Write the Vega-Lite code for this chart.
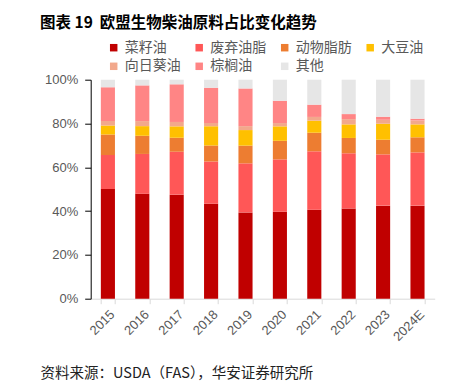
{
  "$schema": "https://vega.github.io/schema/vega-lite/v6.json",
  "width": 344,
  "height": 219,
  "autosize": "none",
  "padding": {"left": 90.7, "top": 79.7, "right": 38.3, "bottom": 84.3},
  "background": "white",
  "title": {
    "text": "图表 19\u00a0\u00a0欧盟生物柴油原料占比变化趋势",
    "anchor": "start",
    "frame": "group",
    "dx": -50.7,
    "offset": 2,
    "baseline": "middle",
    "font": "Noto Sans CJK SC",
    "fontSize": 15.5,
    "fontWeight": "bold",
    "color": "#000000"
  },
  "config": {"view": {"stroke": null}},
  "data": {
    "values": [
      {"year": "2015", "type": "菜籽油", "value": 50.1, "o": 1},
      {"year": "2015", "type": "废弃油脂", "value": 15.5, "o": 2},
      {"year": "2015", "type": "动物脂肪", "value": 9.4, "o": 3},
      {"year": "2015", "type": "大豆油", "value": 4.1, "o": 4},
      {"year": "2015", "type": "向日葵油", "value": 2.0, "o": 5},
      {"year": "2015", "type": "棕榈油", "value": 15.5, "o": 6},
      {"year": "2015", "type": "其他", "value": 3.4, "o": 7},
      {"year": "2016", "type": "菜籽油", "value": 47.9, "o": 1},
      {"year": "2016", "type": "废弃油脂", "value": 18.2, "o": 2},
      {"year": "2016", "type": "动物脂肪", "value": 8.3, "o": 3},
      {"year": "2016", "type": "大豆油", "value": 4.4, "o": 4},
      {"year": "2016", "type": "向日葵油", "value": 2.3, "o": 5},
      {"year": "2016", "type": "棕榈油", "value": 16.3, "o": 6},
      {"year": "2016", "type": "其他", "value": 2.6, "o": 7},
      {"year": "2017", "type": "菜籽油", "value": 47.5, "o": 1},
      {"year": "2017", "type": "废弃油脂", "value": 19.6, "o": 2},
      {"year": "2017", "type": "动物脂肪", "value": 6.4, "o": 3},
      {"year": "2017", "type": "大豆油", "value": 5.2, "o": 4},
      {"year": "2017", "type": "向日葵油", "value": 2.0, "o": 5},
      {"year": "2017", "type": "棕榈油", "value": 17.2, "o": 6},
      {"year": "2017", "type": "其他", "value": 2.1, "o": 7},
      {"year": "2018", "type": "菜籽油", "value": 43.4, "o": 1},
      {"year": "2018", "type": "废弃油脂", "value": 19.3, "o": 2},
      {"year": "2018", "type": "动物脂肪", "value": 7.2, "o": 3},
      {"year": "2018", "type": "大豆油", "value": 8.8, "o": 4},
      {"year": "2018", "type": "向日葵油", "value": 1.5, "o": 5},
      {"year": "2018", "type": "棕榈油", "value": 16.1, "o": 6},
      {"year": "2018", "type": "其他", "value": 3.7, "o": 7},
      {"year": "2019", "type": "菜籽油", "value": 39.4, "o": 1},
      {"year": "2019", "type": "废弃油脂", "value": 22.4, "o": 2},
      {"year": "2019", "type": "动物脂肪", "value": 8.1, "o": 3},
      {"year": "2019", "type": "大豆油", "value": 7.1, "o": 4},
      {"year": "2019", "type": "向日葵油", "value": 1.8, "o": 5},
      {"year": "2019", "type": "棕榈油", "value": 17.2, "o": 6},
      {"year": "2019", "type": "其他", "value": 4.0, "o": 7},
      {"year": "2020", "type": "菜籽油", "value": 39.7, "o": 1},
      {"year": "2020", "type": "废弃油脂", "value": 23.9, "o": 2},
      {"year": "2020", "type": "动物脂肪", "value": 8.5, "o": 3},
      {"year": "2020", "type": "大豆油", "value": 6.6, "o": 4},
      {"year": "2020", "type": "向日葵油", "value": 1.5, "o": 5},
      {"year": "2020", "type": "棕榈油", "value": 10.2, "o": 6},
      {"year": "2020", "type": "其他", "value": 9.6, "o": 7},
      {"year": "2021", "type": "菜籽油", "value": 40.6, "o": 1},
      {"year": "2021", "type": "废弃油脂", "value": 26.7, "o": 2},
      {"year": "2021", "type": "动物脂肪", "value": 8.5, "o": 3},
      {"year": "2021", "type": "大豆油", "value": 5.5, "o": 4},
      {"year": "2021", "type": "向日葵油", "value": 1.7, "o": 5},
      {"year": "2021", "type": "棕榈油", "value": 5.6, "o": 6},
      {"year": "2021", "type": "其他", "value": 11.4, "o": 7},
      {"year": "2022", "type": "菜籽油", "value": 41.2, "o": 1},
      {"year": "2022", "type": "废弃油脂", "value": 25.2, "o": 2},
      {"year": "2022", "type": "动物脂肪", "value": 7.0, "o": 3},
      {"year": "2022", "type": "大豆油", "value": 6.2, "o": 4},
      {"year": "2022", "type": "向日葵油", "value": 2.4, "o": 5},
      {"year": "2022", "type": "棕榈油", "value": 2.3, "o": 6},
      {"year": "2022", "type": "其他", "value": 15.7, "o": 7},
      {"year": "2023", "type": "菜籽油", "value": 42.5, "o": 1},
      {"year": "2023", "type": "废弃油脂", "value": 23.4, "o": 2},
      {"year": "2023", "type": "动物脂肪", "value": 6.7, "o": 3},
      {"year": "2023", "type": "大豆油", "value": 7.3, "o": 4},
      {"year": "2023", "type": "向日葵油", "value": 1.8, "o": 5},
      {"year": "2023", "type": "棕榈油", "value": 1.4, "o": 6},
      {"year": "2023", "type": "其他", "value": 16.9, "o": 7},
      {"year": "2024E", "type": "菜籽油", "value": 42.5, "o": 1},
      {"year": "2024E", "type": "废弃油脂", "value": 24.3, "o": 2},
      {"year": "2024E", "type": "动物脂肪", "value": 6.9, "o": 3},
      {"year": "2024E", "type": "大豆油", "value": 5.9, "o": 4},
      {"year": "2024E", "type": "向日葵油", "value": 1.8, "o": 5},
      {"year": "2024E", "type": "棕榈油", "value": 0.8, "o": 6},
      {"year": "2024E", "type": "其他", "value": 17.8, "o": 7}
    ]
  },
  "mark": {"type": "bar"},
  "encoding": {
    "x": {
      "field": "year",
      "type": "nominal",
      "sort": null,
      "scale": {"paddingInner": 0.59, "paddingOuter": 0.295},
      "axis": {
        "title": "资料来源：USDA（FAS），华安证券研究所",
        "titleX": -50.7,
        "titleY": 75,
        "titleAlign": "left",
        "titleBaseline": "middle",
        "titleFont": "Noto Sans CJK SC",
        "titleFontSize": 14.5,
        "titleFontWeight": "normal",
        "titleColor": "#222222",
        "labelAngle": -45,
        "labelFont": "Liberation Sans",
        "labelFontSize": 13,
        "labelColor": "#595959",
        "labelPadding": 4,
        "domainColor": "#D9D9D9",
        "tickColor": "#D9D9D9",
        "tickSize": 5,
        "tickBand": "extent"
      }
    },
    "y": {
      "field": "value",
      "type": "quantitative",
      "stack": "normalize",
      "scale": {"domain": [0, 1]},
      "axis": {
        "title": null,
        "values": [0, 0.2, 0.4, 0.6, 0.8, 1],
        "format": ".0%",
        "grid": false,
        "domainColor": "#000000",
        "tickColor": "#000000",
        "tickSize": 6,
        "labelPadding": 7,
        "labelFont": "Liberation Sans",
        "labelFontSize": 13,
        "labelColor": "#595959"
      }
    },
    "color": {
      "field": "type",
      "type": "nominal",
      "scale": {
        "domain": ["菜籽油", "废弃油脂", "动物脂肪", "大豆油", "向日葵油", "棕榈油", "其他"],
        "range": ["#C00000", "#FF5757", "#ED7D31", "#FFC000", "#F2A88C", "#FF8585", "#E6E6E6"]
      },
      "legend": {
        "title": null,
        "orient": "none",
        "legendX": 16,
        "legendY": -39,
        "direction": "horizontal",
        "columns": 4,
        "gridAlign": "all",
        "columnPadding": 11.5,
        "rowPadding": 4.6,
        "padding": 0,
        "symbolType": "square",
        "symbolSize": 56,
        "symbolStrokeWidth": 0,
        "labelOffset": 4,
        "labelFont": "Noto Sans CJK SC",
        "labelFontSize": 14,
        "labelColor": "#595959"
      }
    },
    "order": {"field": "o", "type": "quantitative"}
  }
}
